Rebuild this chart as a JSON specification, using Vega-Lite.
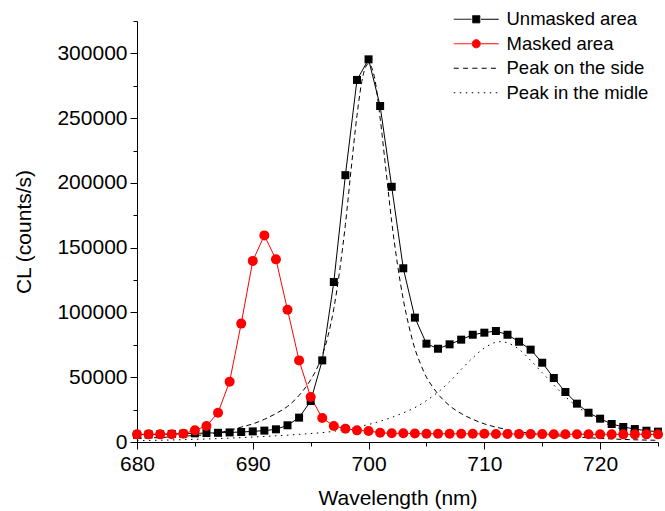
{
  "$schema": "https://vega.github.io/schema/vega-lite/v6.json",
  "autosize": "none",
  "width": 521,
  "height": 421,
  "padding": {"left": 137, "top": 21, "right": 7, "bottom": 69},
  "config": {
    "view": {"stroke": null},
    "font": "Liberation Sans",
    "axis": {"grid": false, "domainColor": "black", "tickColor": "black", "labelColor": "black", "titleColor": "black", "titleFontWeight": "normal", "labelFont": "Liberation Sans", "titleFont": "Liberation Sans"},
    "legend": {"labelFont": "Liberation Sans"}
  },
  "datasets": {
    "points": [
      {"series": "Unmasked area", "wavelength": 680, "value": 5600},
      {"series": "Unmasked area", "wavelength": 681, "value": 5800},
      {"series": "Unmasked area", "wavelength": 682, "value": 6000},
      {"series": "Unmasked area", "wavelength": 683, "value": 6200},
      {"series": "Unmasked area", "wavelength": 684, "value": 6400},
      {"series": "Unmasked area", "wavelength": 685, "value": 6700},
      {"series": "Unmasked area", "wavelength": 686, "value": 6900},
      {"series": "Unmasked area", "wavelength": 687, "value": 7100},
      {"series": "Unmasked area", "wavelength": 688, "value": 7400},
      {"series": "Unmasked area", "wavelength": 689, "value": 7700},
      {"series": "Unmasked area", "wavelength": 690, "value": 8200},
      {"series": "Unmasked area", "wavelength": 691, "value": 8800},
      {"series": "Unmasked area", "wavelength": 692, "value": 9800},
      {"series": "Unmasked area", "wavelength": 693, "value": 12900},
      {"series": "Unmasked area", "wavelength": 694, "value": 18800},
      {"series": "Unmasked area", "wavelength": 695, "value": 31600},
      {"series": "Unmasked area", "wavelength": 696, "value": 63000},
      {"series": "Unmasked area", "wavelength": 697, "value": 123500},
      {"series": "Unmasked area", "wavelength": 698, "value": 206000},
      {"series": "Unmasked area", "wavelength": 699, "value": 279500},
      {"series": "Unmasked area", "wavelength": 700, "value": 295400},
      {"series": "Unmasked area", "wavelength": 701, "value": 259400},
      {"series": "Unmasked area", "wavelength": 702, "value": 197000},
      {"series": "Unmasked area", "wavelength": 703, "value": 134100},
      {"series": "Unmasked area", "wavelength": 704, "value": 96000},
      {"series": "Unmasked area", "wavelength": 705, "value": 75900},
      {"series": "Unmasked area", "wavelength": 706, "value": 72000},
      {"series": "Unmasked area", "wavelength": 707, "value": 75400},
      {"series": "Unmasked area", "wavelength": 708, "value": 79000},
      {"series": "Unmasked area", "wavelength": 709, "value": 82800},
      {"series": "Unmasked area", "wavelength": 710, "value": 84400},
      {"series": "Unmasked area", "wavelength": 711, "value": 85700},
      {"series": "Unmasked area", "wavelength": 712, "value": 82800},
      {"series": "Unmasked area", "wavelength": 713, "value": 77400},
      {"series": "Unmasked area", "wavelength": 714, "value": 71300},
      {"series": "Unmasked area", "wavelength": 715, "value": 61200},
      {"series": "Unmasked area", "wavelength": 716, "value": 49400},
      {"series": "Unmasked area", "wavelength": 717, "value": 38600},
      {"series": "Unmasked area", "wavelength": 718, "value": 29600},
      {"series": "Unmasked area", "wavelength": 719, "value": 22600},
      {"series": "Unmasked area", "wavelength": 720, "value": 18000},
      {"series": "Unmasked area", "wavelength": 721, "value": 13900},
      {"series": "Unmasked area", "wavelength": 722, "value": 11600},
      {"series": "Unmasked area", "wavelength": 723, "value": 10000},
      {"series": "Unmasked area", "wavelength": 724, "value": 8700},
      {"series": "Unmasked area", "wavelength": 725, "value": 8000},
      {"series": "Masked area", "wavelength": 680, "value": 5900},
      {"series": "Masked area", "wavelength": 681, "value": 5900},
      {"series": "Masked area", "wavelength": 682, "value": 5900},
      {"series": "Masked area", "wavelength": 683, "value": 6000},
      {"series": "Masked area", "wavelength": 684, "value": 6400},
      {"series": "Masked area", "wavelength": 685, "value": 9000},
      {"series": "Masked area", "wavelength": 686, "value": 12400},
      {"series": "Masked area", "wavelength": 687, "value": 22600},
      {"series": "Masked area", "wavelength": 688, "value": 46600},
      {"series": "Masked area", "wavelength": 689, "value": 91400},
      {"series": "Masked area", "wavelength": 690, "value": 139800},
      {"series": "Masked area", "wavelength": 691, "value": 159500},
      {"series": "Masked area", "wavelength": 692, "value": 141000},
      {"series": "Masked area", "wavelength": 693, "value": 102100},
      {"series": "Masked area", "wavelength": 694, "value": 63000},
      {"series": "Masked area", "wavelength": 695, "value": 34700},
      {"series": "Masked area", "wavelength": 696, "value": 18500},
      {"series": "Masked area", "wavelength": 697, "value": 12400},
      {"series": "Masked area", "wavelength": 698, "value": 10300},
      {"series": "Masked area", "wavelength": 699, "value": 9000},
      {"series": "Masked area", "wavelength": 700, "value": 8500},
      {"series": "Masked area", "wavelength": 701, "value": 7200},
      {"series": "Masked area", "wavelength": 702, "value": 6700},
      {"series": "Masked area", "wavelength": 703, "value": 6700},
      {"series": "Masked area", "wavelength": 704, "value": 6500},
      {"series": "Masked area", "wavelength": 705, "value": 6400},
      {"series": "Masked area", "wavelength": 706, "value": 6400},
      {"series": "Masked area", "wavelength": 707, "value": 6400},
      {"series": "Masked area", "wavelength": 708, "value": 6300},
      {"series": "Masked area", "wavelength": 709, "value": 6300},
      {"series": "Masked area", "wavelength": 710, "value": 6300},
      {"series": "Masked area", "wavelength": 711, "value": 6200},
      {"series": "Masked area", "wavelength": 712, "value": 6200},
      {"series": "Masked area", "wavelength": 713, "value": 6100},
      {"series": "Masked area", "wavelength": 714, "value": 6100},
      {"series": "Masked area", "wavelength": 715, "value": 6100},
      {"series": "Masked area", "wavelength": 716, "value": 6000},
      {"series": "Masked area", "wavelength": 717, "value": 6000},
      {"series": "Masked area", "wavelength": 718, "value": 6000},
      {"series": "Masked area", "wavelength": 719, "value": 6000},
      {"series": "Masked area", "wavelength": 720, "value": 5900},
      {"series": "Masked area", "wavelength": 721, "value": 5900},
      {"series": "Masked area", "wavelength": 722, "value": 5900},
      {"series": "Masked area", "wavelength": 723, "value": 5900},
      {"series": "Masked area", "wavelength": 724, "value": 5900},
      {"series": "Masked area", "wavelength": 725, "value": 5900}
    ],
    "fits": [
      {"series": "Peak on the side", "wavelength": 680, "value": 3000},
      {"series": "Peak on the side", "wavelength": 682, "value": 3500},
      {"series": "Peak on the side", "wavelength": 684, "value": 4500},
      {"series": "Peak on the side", "wavelength": 686, "value": 5800},
      {"series": "Peak on the side", "wavelength": 688, "value": 9000},
      {"series": "Peak on the side", "wavelength": 689, "value": 11500},
      {"series": "Peak on the side", "wavelength": 690, "value": 14000},
      {"series": "Peak on the side", "wavelength": 691, "value": 17500},
      {"series": "Peak on the side", "wavelength": 692, "value": 22000},
      {"series": "Peak on the side", "wavelength": 693, "value": 27500},
      {"series": "Peak on the side", "wavelength": 694, "value": 36000},
      {"series": "Peak on the side", "wavelength": 695, "value": 48000},
      {"series": "Peak on the side", "wavelength": 695.5, "value": 56000},
      {"series": "Peak on the side", "wavelength": 696, "value": 67000},
      {"series": "Peak on the side", "wavelength": 696.5, "value": 82000},
      {"series": "Peak on the side", "wavelength": 697, "value": 103000},
      {"series": "Peak on the side", "wavelength": 697.5, "value": 132000},
      {"series": "Peak on the side", "wavelength": 698, "value": 168000},
      {"series": "Peak on the side", "wavelength": 698.5, "value": 211000},
      {"series": "Peak on the side", "wavelength": 699, "value": 252000},
      {"series": "Peak on the side", "wavelength": 699.5, "value": 282000},
      {"series": "Peak on the side", "wavelength": 700, "value": 292000},
      {"series": "Peak on the side", "wavelength": 700.5, "value": 282000},
      {"series": "Peak on the side", "wavelength": 701, "value": 250000},
      {"series": "Peak on the side", "wavelength": 701.5, "value": 210000},
      {"series": "Peak on the side", "wavelength": 702, "value": 170000},
      {"series": "Peak on the side", "wavelength": 702.5, "value": 137000},
      {"series": "Peak on the side", "wavelength": 703, "value": 110000},
      {"series": "Peak on the side", "wavelength": 703.5, "value": 89000},
      {"series": "Peak on the side", "wavelength": 704, "value": 72000},
      {"series": "Peak on the side", "wavelength": 704.5, "value": 60000},
      {"series": "Peak on the side", "wavelength": 705, "value": 50000},
      {"series": "Peak on the side", "wavelength": 705.5, "value": 43000},
      {"series": "Peak on the side", "wavelength": 706, "value": 37000},
      {"series": "Peak on the side", "wavelength": 707, "value": 28000},
      {"series": "Peak on the side", "wavelength": 708, "value": 22000},
      {"series": "Peak on the side", "wavelength": 709, "value": 17500},
      {"series": "Peak on the side", "wavelength": 710, "value": 14000},
      {"series": "Peak on the side", "wavelength": 711, "value": 11500},
      {"series": "Peak on the side", "wavelength": 712, "value": 9500},
      {"series": "Peak on the side", "wavelength": 713, "value": 8000},
      {"series": "Peak on the side", "wavelength": 714, "value": 6700},
      {"series": "Peak on the side", "wavelength": 716, "value": 5000},
      {"series": "Peak on the side", "wavelength": 718, "value": 3800},
      {"series": "Peak on the side", "wavelength": 720, "value": 2800},
      {"series": "Peak on the side", "wavelength": 722, "value": 2000},
      {"series": "Peak on the side", "wavelength": 725, "value": 1300},
      {"series": "Peak in the midle", "wavelength": 680, "value": 1000},
      {"series": "Peak in the midle", "wavelength": 684, "value": 1800},
      {"series": "Peak in the midle", "wavelength": 688, "value": 3000},
      {"series": "Peak in the midle", "wavelength": 691, "value": 4300},
      {"series": "Peak in the midle", "wavelength": 694, "value": 5900},
      {"series": "Peak in the midle", "wavelength": 697, "value": 8300},
      {"series": "Peak in the midle", "wavelength": 699, "value": 11500},
      {"series": "Peak in the midle", "wavelength": 701, "value": 16000},
      {"series": "Peak in the midle", "wavelength": 702, "value": 19000},
      {"series": "Peak in the midle", "wavelength": 703, "value": 22500},
      {"series": "Peak in the midle", "wavelength": 704, "value": 26500},
      {"series": "Peak in the midle", "wavelength": 705, "value": 32000},
      {"series": "Peak in the midle", "wavelength": 706, "value": 38500},
      {"series": "Peak in the midle", "wavelength": 707, "value": 46500},
      {"series": "Peak in the midle", "wavelength": 708, "value": 56000},
      {"series": "Peak in the midle", "wavelength": 709, "value": 65000},
      {"series": "Peak in the midle", "wavelength": 710, "value": 72500},
      {"series": "Peak in the midle", "wavelength": 711, "value": 77000},
      {"series": "Peak in the midle", "wavelength": 711.5, "value": 77500},
      {"series": "Peak in the midle", "wavelength": 712, "value": 76500},
      {"series": "Peak in the midle", "wavelength": 713, "value": 71500},
      {"series": "Peak in the midle", "wavelength": 714, "value": 63000},
      {"series": "Peak in the midle", "wavelength": 715, "value": 53500},
      {"series": "Peak in the midle", "wavelength": 716, "value": 44000},
      {"series": "Peak in the midle", "wavelength": 717, "value": 35000},
      {"series": "Peak in the midle", "wavelength": 718, "value": 27500},
      {"series": "Peak in the midle", "wavelength": 719, "value": 21500},
      {"series": "Peak in the midle", "wavelength": 720, "value": 16500},
      {"series": "Peak in the midle", "wavelength": 721, "value": 12500},
      {"series": "Peak in the midle", "wavelength": 722, "value": 9800},
      {"series": "Peak in the midle", "wavelength": 723, "value": 7800},
      {"series": "Peak in the midle", "wavelength": 724, "value": 6500},
      {"series": "Peak in the midle", "wavelength": 725, "value": 5500}
    ]
  },
  "resolve": {"axis": {"x": "independent", "y": "independent"}},
  "layer": [
    {
      "data": {"name": "fits"},
      "mark": {"type": "line", "strokeWidth": 1, "interpolate": "monotone", "clip": true},
      "encoding": {
        "x": {"field": "wavelength", "type": "quantitative",
          "scale": {"domain": [680, 725], "nice": false, "zero": false},
          "axis": {"orient": "bottom", "values": [680, 690, 700, 710, 720], "tickSize": 7, "labelPadding": 4, "labelFontSize": 21, "labelFlush": false, "labelOverlap": false, "title": "Wavelength (nm)", "titleFontSize": 21, "titlePadding": 13}},
        "y": {"field": "value", "type": "quantitative",
          "scale": {"domain": [0, 325000], "nice": false, "zero": true},
          "axis": {"orient": "left", "values": [0, 50000, 100000, 150000, 200000, 250000, 300000], "format": "d", "tickSize": 7, "labelPadding": 3, "labelFontSize": 21, "labelFlush": false, "labelOverlap": false, "title": "CL (counts/s)", "titleFontSize": 21, "titlePadding": 22}},
        "color": {"field": "series", "type": "nominal",
          "scale": {"domain": ["Unmasked area", "Masked area", "Peak on the side", "Peak in the midle"], "range": ["#000000", "#ff0000", "#000000", "#000000"]},
          "legend": {"title": null, "orient": "none", "legendX": 330, "legendY": -11, "padding": 0, "symbolSize": 100, "symbolStrokeWidth": 1, "labelFontSize": 18.5, "labelColor": "black", "labelOffset": 21, "rowPadding": 5.5,
            "encode": {"symbols": {"update": {
              "shape": {"signal": "datum.value === 'Unmasked area' ? 'M-4.5,0H-0.95M0.95,0H4.5M-0.72,-0.72H0.72V0.72H-0.72Z' : datum.value === 'Masked area' ? 'M-4.5,0H-0.95M0.95,0H4.5M-0.82,0A0.82,0.82,0,1,0,0.82,0A0.82,0.82,0,1,0,-0.82,0Z' : 'M-4.5,0H4.6'"},
              "fill": {"signal": "datum.value === 'Unmasked area' ? '#000000' : datum.value === 'Masked area' ? '#ff0000' : 'transparent'"},
              "strokeDash": {"signal": "datum.value === 'Peak on the side' ? [5, 4.3] : datum.value === 'Peak in the midle' ? [1.5, 4.5] : [1, 0]"}
            }}}}},
        "strokeDash": {"field": "series", "type": "nominal",
          "scale": {"domain": ["Peak on the side", "Peak in the midle"], "range": [[5, 3.5], [1.5, 4.5]]},
          "legend": null},
        "detail": {"field": "series"}
      }
    },
    {
      "data": {"name": "points"},
      "mark": {"type": "line", "strokeWidth": 1},
      "encoding": {
        "x": {"field": "wavelength", "type": "quantitative",
          "axis": {"orient": "bottom", "values": [685, 695, 705, 715, 725], "tickSize": 4, "labels": false, "domain": false, "title": null}},
        "y": {"field": "value", "type": "quantitative",
          "axis": {"orient": "left", "values": [25000, 75000, 125000, 175000, 225000, 275000, 325000], "tickSize": 4, "labels": false, "domain": false, "title": null}},
        "color": {"field": "series", "type": "nominal"},
        "detail": {"field": "series"}
      }
    },
    {
      "data": {"name": "points"},
      "transform": [{"filter": "datum.series === 'Unmasked area'"}],
      "mark": {"type": "point", "shape": "square", "filled": true, "size": 64, "opacity": 1, "color": "#000000"},
      "encoding": {
        "x": {"field": "wavelength", "type": "quantitative", "axis": null},
        "y": {"field": "value", "type": "quantitative", "axis": null}
      }
    },
    {
      "data": {"name": "points"},
      "transform": [{"filter": "datum.series === 'Masked area'"}],
      "mark": {"type": "point", "shape": "circle", "filled": true, "size": 100, "opacity": 1, "color": "#ff0000"},
      "encoding": {
        "x": {"field": "wavelength", "type": "quantitative", "axis": null},
        "y": {"field": "value", "type": "quantitative", "axis": null}
      }
    }
  ]
}
